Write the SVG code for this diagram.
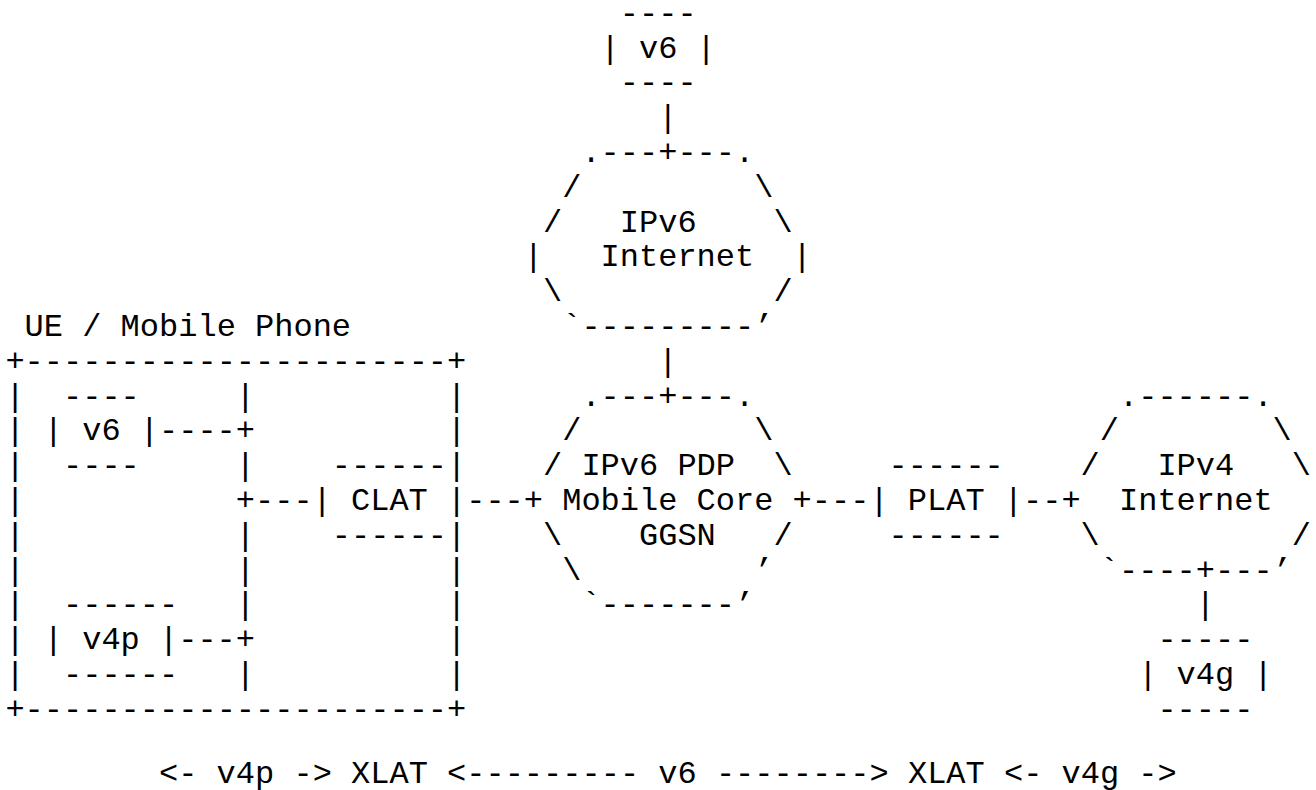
<svg xmlns="http://www.w3.org/2000/svg" width="1316" height="790" viewBox="0 0 1316 790">
<style>
text { font-family: "Liberation Mono", "Courier New", monospace; font-size: 32px; fill: #000; }
</style>
<rect width="1316" height="790" fill="#fff"/>
<g id="node-v6-top">
<text x="619.8" y="22.8">----</text>
<text x="600.6" y="57.6">| v6 |</text>
<text x="619.8" y="92.4">----</text>
</g>
<g id="node-ipv6-internet">
<text x="581.4" y="162">.---+---.</text>
<text x="562.2" y="196.8">/</text><text x="754.2" y="196.8">\</text>
<text x="543" y="231.6">/</text><text x="619.8" y="231.6">IPv6</text><text x="773.4" y="231.6">\</text>
<text x="523.8" y="266.4">|</text><text x="600.6" y="266.4">Internet</text><text x="792.6" y="266.4">|</text>
<text x="543" y="301.2">\</text><text x="773.4" y="301.2">/</text>
<text x="562.2" y="336">`---------’</text>
</g>
<g id="node-ue">
<text x="24.6" y="336">UE / Mobile Phone</text>
<text x="5.4" y="370.8">+----------------------+</text>
<text><tspan x="5.4" y="405.6">|</tspan><tspan x="5.4" y="440.4">|</tspan><tspan x="5.4" y="475.2">|</tspan><tspan x="5.4" y="510">|</tspan><tspan x="5.4" y="544.8">|</tspan><tspan x="5.4" y="579.6">|</tspan><tspan x="5.4" y="614.4">|</tspan><tspan x="5.4" y="649.2">|</tspan><tspan x="5.4" y="684">|</tspan></text>
<text><tspan x="447" y="405.6">|</tspan><tspan x="447" y="440.4">|</tspan><tspan x="447" y="475.2">|</tspan><tspan x="447" y="544.8">|</tspan><tspan x="447" y="579.6">|</tspan><tspan x="447" y="614.4">|</tspan><tspan x="447" y="649.2">|</tspan><tspan x="447" y="684">|</tspan></text>
<text x="5.4" y="718.8">+----------------------+</text>
</g>
<g id="node-v6-ue">
<text x="63" y="405.6">----</text>
<text x="43.8" y="440.4">| v6 |</text>
<text x="63" y="475.2">----</text>
</g>
<g id="node-v4p">
<text x="63" y="614.4">------</text>
<text x="43.8" y="649.2">| v4p |</text>
<text x="63" y="684">------</text>
</g>
<g id="node-clat">
<text x="331.8" y="475.2">------</text>
<text x="312.6" y="510">| CLAT |</text>
<text x="331.8" y="544.8">------</text>
</g>
<g id="node-mobile-core">
<text x="581.4" y="405.6">.---+---.</text>
<text x="562.2" y="440.4">/</text><text x="754.2" y="440.4">\</text>
<text x="543" y="475.2">/</text><text x="581.4" y="475.2">IPv6 PDP</text><text x="773.4" y="475.2">\</text>
<text x="562.2" y="510">Mobile Core</text>
<text x="543" y="544.8">\</text><text x="639" y="544.8">GGSN</text><text x="773.4" y="544.8">/</text>
<text x="562.2" y="579.6">\</text><text x="754.2" y="579.6">’</text>
<text x="581.4" y="614.4">`-------’</text>
</g>
<g id="node-plat">
<text x="888.6" y="475.2">------</text>
<text x="869.4" y="510">| PLAT |</text>
<text x="888.6" y="544.8">------</text>
</g>
<g id="node-ipv4-internet">
<text x="1119" y="405.6">.------.</text>
<text x="1099.8" y="440.4">/</text><text x="1272.6" y="440.4">\</text>
<text x="1080.6" y="475.2">/</text><text x="1157.4" y="475.2">IPv4</text><text x="1291.8" y="475.2">\</text>
<text x="1119" y="510">Internet</text>
<text x="1080.6" y="544.8">\</text><text x="1291.8" y="544.8">/</text>
<text x="1099.8" y="579.6">`----+---’</text>
</g>
<g id="node-v4g">
<text x="1157.4" y="649.2">-----</text>
<text x="1138.2" y="684">| v4g |</text>
<text x="1157.4" y="718.8">-----</text>
</g>
<g id="connectors">
<text x="658.2" y="127.2">|</text>
<text x="658.2" y="370.8">|</text>
<text x="235.8" y="405.6">|</text>
<text x="159" y="440.4">----+</text>
<text x="235.8" y="475.2">|</text>
<text x="235.8" y="510">+---</text>
<text x="235.8" y="544.8">|</text>
<text x="235.8" y="579.6">|</text>
<text x="235.8" y="614.4">|</text>
<text x="178.2" y="649.2">---+</text>
<text x="235.8" y="684">|</text>
<text x="466.2" y="510">---+</text>
<text x="792.6" y="510">+---</text>
<text x="1023" y="510">--+</text>
<text x="1195.8" y="614.4">|</text>
</g>
<g id="legend">
<text x="159" y="783">&lt;- v4p -&gt; XLAT &lt;--------- v6 --------&gt; XLAT &lt;- v4g -&gt;</text>
</g>
</svg>
